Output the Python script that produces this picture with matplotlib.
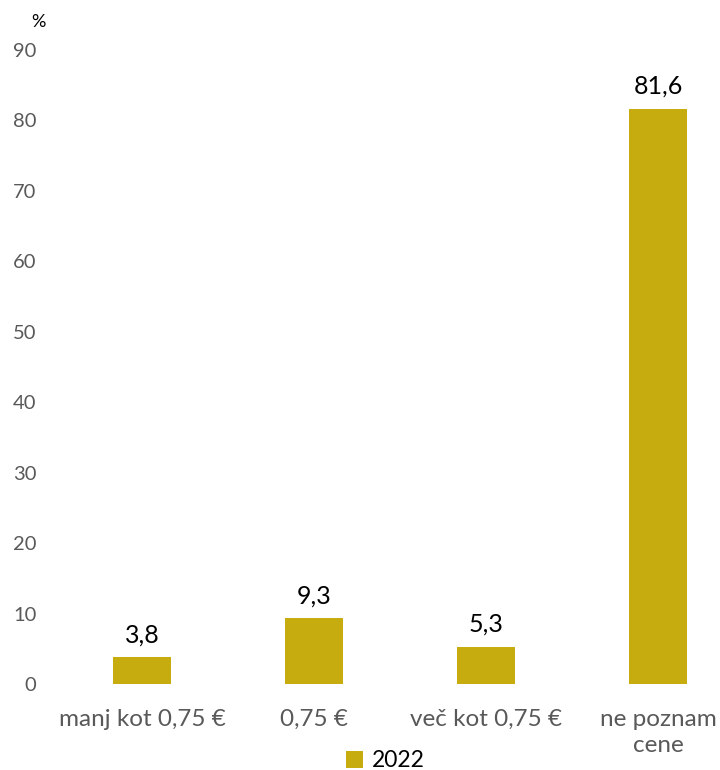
import matplotlib.pyplot as plt

categories = ["manj kot 0,75 €", "0,75 €", "več kot 0,75 €", "ne poznam\ncene"]
values = [3.8, 9.3, 5.3, 81.6]
value_labels = ["3,8", "9,3", "5,3", "81,6"]
series_name = "2022"
y_ticks = [0, 10, 20, 30, 40, 50, 60, 70, 80, 90]

plt.rcParams["font.family"] = ["Lato", "DejaVu Sans"]

fig = plt.figure(figsize=(7.2, 7.7), dpi=100)
ax = fig.add_axes([0.0778, 0.1117, 0.9222, 0.8234])

x = list(range(len(categories)))
ax.bar(x, values, width=0.337, color="#C6AC0F", label=series_name)

for xi, v, lab in zip(x, values, value_labels):
    ax.annotate(lab, (xi, v), xytext=(0, 8), textcoords="offset points",
                ha="center", va="bottom", fontsize=18, color="black")

ax.set_xlim(-0.5, 3.36)
ax.set_ylim(0, 90)
ax.set_yticks(y_ticks)
ax.set_yticklabels([str(t) for t in y_ticks], fontsize=14.5, color="#595959")
ax.set_xticks(x)
ax.set_xticklabels(categories, fontsize=17.5, color="#595959", va="top",
                   linespacing=1.3)
ax.tick_params(axis="x", length=0, pad=18)
ax.tick_params(axis="y", length=0, pad=14)
for s in ax.spines.values():
    s.set_visible(False)

fig.text(0.053, 0.972, "%", fontsize=13, color="black", ha="center", va="center")

fig.legend(loc="center", bbox_to_anchor=(0.535, 0.012), frameon=False,
           fontsize=16.5, handlelength=0.75, handleheight=0.75, handletextpad=0.4)

fig.savefig("out.png", dpi=100)
